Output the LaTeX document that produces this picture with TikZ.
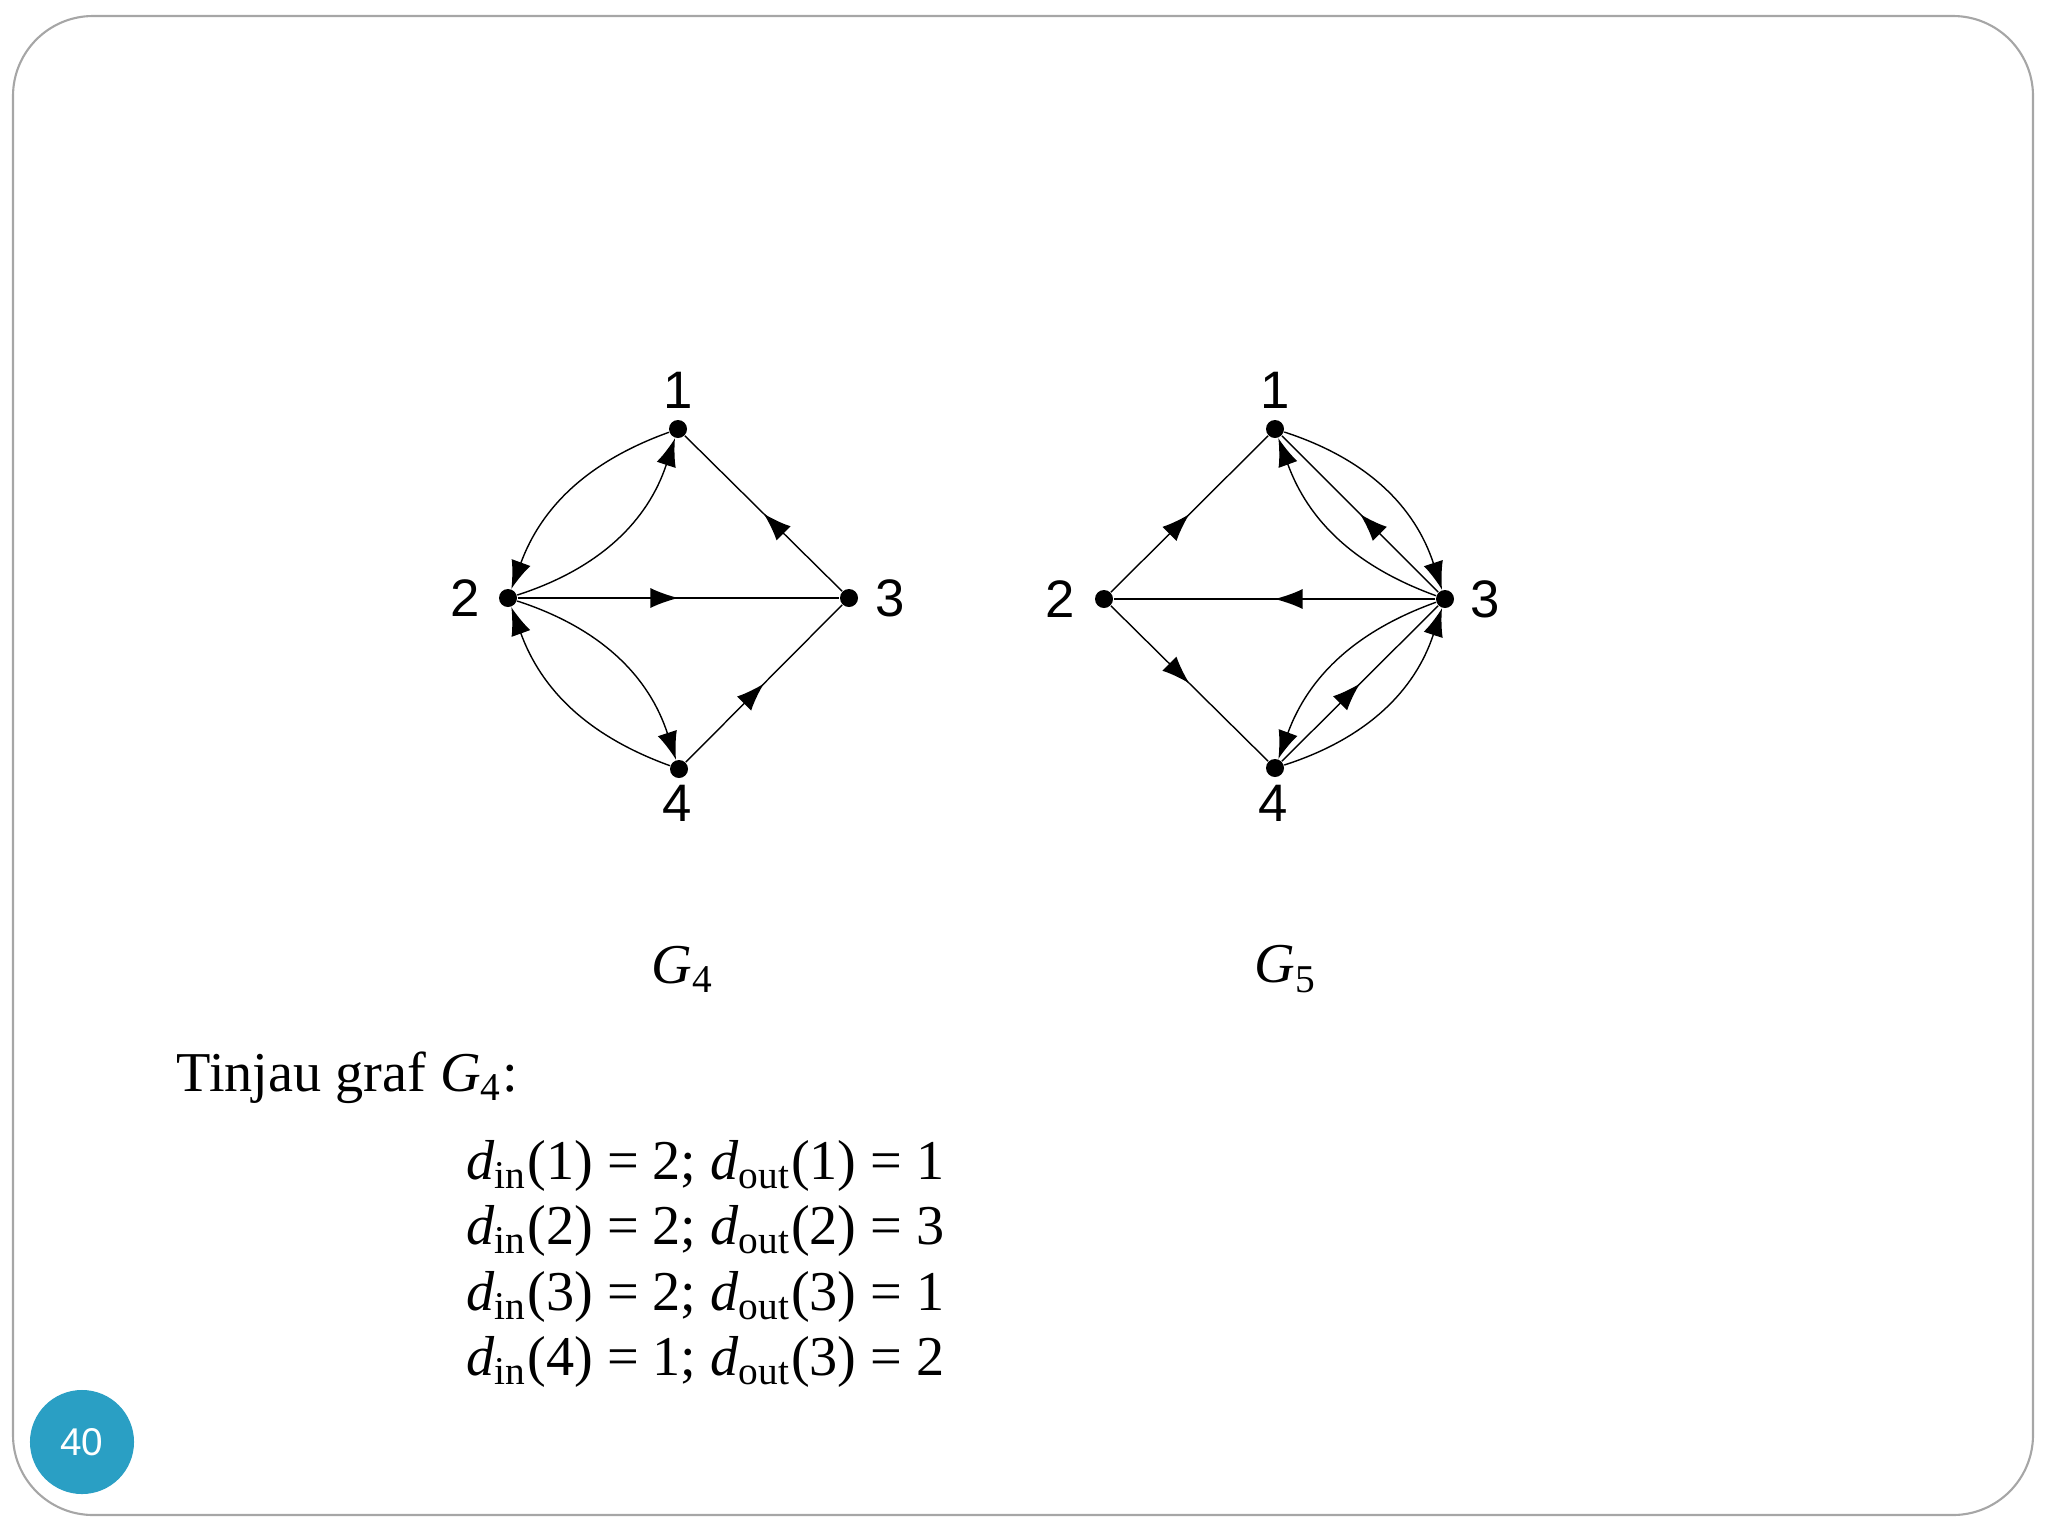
\documentclass[tikz,border=0pt]{standalone}
\usepackage{fontspec}
\setmainfont{Liberation Serif}
\newfontfamily\arialf{Liberation Sans}
\usetikzlibrary{arrows.meta,decorations.markings}
\definecolor{teal1}{HTML}{2A9FC4}
\begin{document}
\begin{tikzpicture}[x=0.01cm,y=-0.01cm,
  vtx/.style={circle,fill=black,inner sep=0pt,minimum size=0.18cm},
  lbl/.style={font=\arialf\fontsize{15}{17}\selectfont},
  ed/.style={line width=0.4pt},
  tip/.style={ed,-{Latex[length=0.28cm,width=0.2cm]}},
  mid/.style={ed,postaction={decorate},decoration={markings,mark=at position 0.5 with {\arrow{Latex[length=0.28cm,width=0.2cm]}}}},
  eq/.style={font=\fontsize{16}{19}\selectfont,anchor=west,inner sep=0pt}]
\useasboundingbox (0,0) rectangle (2048,1536);
\draw[gray!70,line width=0.6pt,rounded corners=0.8cm] (13,16) rectangle (2033,1515);
% G4
\node[vtx] (a1) at (678,429) {};
\node[vtx] (a2) at (508,598) {};
\node[vtx] (a3) at (849,598) {};
\node[vtx] (a4) at (679,769) {};
\node[lbl] (la1) at (678,390) {1};
\node[lbl] (la2) at (465,598) {2};
\node[lbl] (la3) at (890,598) {3};
\node[lbl] (la4) at (677,803) {4};
\draw[mid] (a3) -- (a1);
\draw[mid] (a2) -- (a3);
\draw[mid] (a4) -- (a3);
\draw[tip] (a1) to[bend right=25] (a2);
\draw[tip] (a2) to[bend right=27] (a1);
\draw[tip] (a4) to[bend left=25] (a2);
\draw[tip] (a2) to[bend left=27] (a4);
% G5
\node[vtx] (b1) at (1275,429) {};
\node[vtx] (b2) at (1104,599) {};
\node[vtx] (b3) at (1445,599) {};
\node[vtx] (b4) at (1275,768) {};
\node[lbl] (lb1) at (1275,390) {1};
\node[lbl] (lb2) at (1060,599) {2};
\node[lbl] (lb3) at (1485,599) {3};
\node[lbl] (lb4) at (1273,803) {4};
\draw[mid] (b2) -- (b1);
\draw[mid] (b2) -- (b4);
\draw[mid] (b3) -- (b2);
\draw[mid] (b3) -- (b1);
\draw[mid] (b4) -- (b3);
\draw[tip] (b1) to[bend left=27] (b3);
\draw[tip] (b3) to[bend left=25] (b1);
\draw[tip] (b3) to[bend right=25] (b4);
\draw[tip] (b4) to[bend right=27] (b3);
% captions
\node[eq,anchor=center] (g4) at (683,969) {\textit{G}\textsubscript{4}};
\node[eq,anchor=center] (g5) at (1286,969) {\textit{G}\textsubscript{5}};
\node[eq] (t) at (176,1078) {Tinjau graf \textit{G}\textsubscript{4}:};
\node[eq] (e1) at (466,1166) {\textit{d}\textsubscript{in}(1) = 2; \textit{d}\textsubscript{out}(1) = 1};
\node[eq] (e2) at (466,1231) {\textit{d}\textsubscript{in}(2) = 2; \textit{d}\textsubscript{out}(2) = 3};
\node[eq] (e3) at (466,1297) {\textit{d}\textsubscript{in}(3) = 2; \textit{d}\textsubscript{out}(3) = 1};
\node[eq] (e4) at (466,1362) {\textit{d}\textsubscript{in}(4) = 1; \textit{d}\textsubscript{out}(3) = 2};
% page number
\node[circle,fill=teal1,minimum size=1.04cm,inner sep=0pt,text=white,font=\arialf\fontsize{11}{13}\selectfont] (pg) at (82,1442) {40};
\end{tikzpicture}
\end{document}
